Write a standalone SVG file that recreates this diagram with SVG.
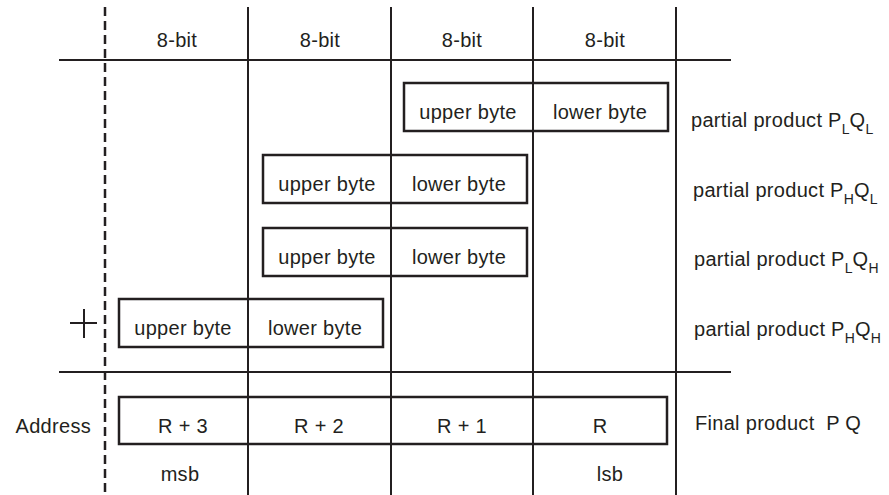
<svg xmlns="http://www.w3.org/2000/svg" width="889" height="495" viewBox="0 0 889 495">
<style>
text{font-family:"Liberation Sans",Arial,sans-serif;font-size:20px;fill:#231f20;letter-spacing:0.3px}
.c{text-anchor:middle}
.e{text-anchor:end}
.sub{font-size:14px;letter-spacing:0}
.ln{stroke:#231f20;stroke-width:2;fill:none}
.box{stroke:#231f20;stroke-width:2.5;fill:none}
.dash{stroke:#231f20;stroke-width:2.5;stroke-dasharray:9 5;fill:none}
</style>
<rect width="889" height="495" fill="#fff"/>
<g id="grid">
<line class="dash" x1="105" y1="7" x2="105" y2="495"/>
<line class="ln" x1="248" y1="7" x2="248" y2="495"/>
<line class="ln" x1="391" y1="7" x2="391" y2="495"/>
<line class="ln" x1="533" y1="7" x2="533" y2="495"/>
<line class="ln" x1="676" y1="7" x2="676" y2="495"/>
<line class="ln" x1="59" y1="60" x2="731" y2="60"/>
<line class="ln" x1="59" y1="372" x2="731" y2="372"/>
</g>
<g id="headers">
<text class="c" x="177" y="47">8-bit</text>
<text class="c" x="320" y="47">8-bit</text>
<text class="c" x="462" y="47">8-bit</text>
<text class="c" x="605" y="47">8-bit</text>
</g>
<g id="pp-LL">
<rect class="box" x="404" y="83" width="264" height="48"/>
<text class="c" x="468" y="119">upper byte</text>
<text class="c" x="600" y="119">lower byte</text>
<text x="691" y="127">partial product P<tspan class="sub" dy="7">L</tspan><tspan dy="-7">Q</tspan><tspan class="sub" dy="7">L</tspan></text>
</g>
<g id="pp-HL">
<rect class="box" x="263" y="155" width="264" height="48"/>
<text class="c" x="327" y="191">upper byte</text>
<text class="c" x="459" y="191">lower byte</text>
<text x="693" y="197">partial product P<tspan class="sub" dy="7">H</tspan><tspan dy="-7">Q</tspan><tspan class="sub" dy="7">L</tspan></text>
</g>
<g id="pp-LH">
<rect class="box" x="263" y="228" width="264" height="48"/>
<text class="c" x="327" y="264">upper byte</text>
<text class="c" x="459" y="264">lower byte</text>
<text x="694" y="266">partial product P<tspan class="sub" dy="7">L</tspan><tspan dy="-7">Q</tspan><tspan class="sub" dy="7">H</tspan></text>
</g>
<g id="pp-HH">
<rect class="box" x="119" y="299" width="264" height="48"/>
<text class="c" x="183" y="335">upper byte</text>
<text class="c" x="315" y="335">lower byte</text>
<text x="694" y="336">partial product P<tspan class="sub" dy="7">H</tspan><tspan dy="-7">Q</tspan><tspan class="sub" dy="7">H</tspan></text>
<line class="ln" x1="70" y1="323" x2="97" y2="323"/>
<line class="ln" x1="84" y1="309" x2="84" y2="338"/>
</g>
<g id="final">
<rect class="box" x="119" y="397" width="548" height="47"/>
<text class="e" x="91" y="433">Address</text>
<text class="c" x="183" y="433">R + 3</text>
<text class="c" x="319" y="433">R + 2</text>
<text class="c" x="462" y="433">R + 1</text>
<text class="c" x="600" y="433">R</text>
<text x="695" y="430" xml:space="preserve">Final product  P Q</text>
<text class="c" x="180" y="481">msb</text>
<text class="c" x="610" y="481">lsb</text>
</g>
</svg>
